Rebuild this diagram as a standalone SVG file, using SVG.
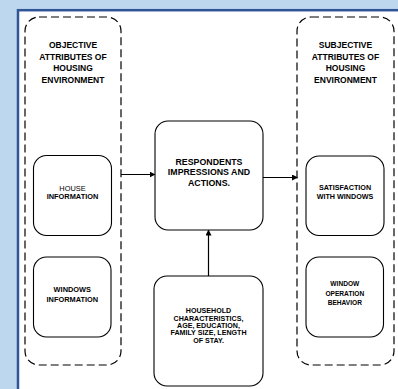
<svg xmlns="http://www.w3.org/2000/svg" width="398" height="389" viewBox="0 0 398 389">
<defs>
<style>
.bg{fill:#BDD7EE}
.panel{fill:#fff;stroke:#2F5597;stroke-width:2.5}
.grp{fill:none;stroke:#000;stroke-width:1.2;stroke-dasharray:8 4}
.node{fill:#fff;stroke:#000;stroke-width:1.1}
text{font-family:"Liberation Sans",Arial,sans-serif;font-weight:bold;text-anchor:middle;fill:#000}
.conn{stroke:#000;stroke-width:1.2;fill:none}
</style>
<marker id="ah" markerWidth="6" markerHeight="6" refX="5" refY="3" orient="auto" markerUnits="userSpaceOnUse">
<path d="M0,0 L6,3 L0,6 Z" fill="#000"/>
</marker>
</defs>
<rect class="bg" x="0" y="0" width="398" height="389"/>
<rect class="panel" x="18" y="10.2" width="390" height="390"/>

<g id="objective">
<rect class="grp" x="25" y="17" width="96" height="348" rx="14"/>
<text font-size="8.5"><tspan x="73" y="48.3">OBJECTIVE</tspan><tspan x="73" y="59.7">ATTRIBUTES OF</tspan><tspan x="73" y="71.2">HOUSING</tspan><tspan x="73" y="82.6">ENVIRONMENT</tspan></text>
</g>
<g id="subjective">
<rect class="grp" x="297" y="17" width="97" height="348" rx="14"/>
<text font-size="8.5"><tspan x="345.5" y="48.3">SUBJECTIVE</tspan><tspan x="345.5" y="59.7">ATTRIBUTES OF</tspan><tspan x="345.5" y="71.2">HOUSING</tspan><tspan x="345.5" y="82.6">ENVIRONMENT</tspan></text>
</g>
<g id="house">
<rect class="node" x="33.5" y="155.5" width="78" height="80" rx="13"/>
<text font-size="7.4"><tspan x="72.5" y="191" font-weight="normal">HOUSE</tspan><tspan x="72.5" y="199.4">INFORMATION</tspan></text>
</g>
<g id="windows">
<rect class="node" x="33.5" y="257" width="77.5" height="80" rx="13"/>
<text font-size="7.4"><tspan x="72.3" y="292">WINDOWS</tspan><tspan x="72.3" y="301.6">INFORMATION</tspan></text>
</g>
<g id="respondents">
<rect class="node" x="155" y="121" width="108" height="109" rx="13"/>
<text font-size="8.8"><tspan x="209" y="164.8">RESPONDENTS</tspan><tspan x="209" y="175.4">IMPRESSIONS AND</tspan><tspan x="209" y="185.9">ACTIONS.</tspan></text>
</g>
<g id="household">
<rect class="node" x="154" y="276" width="109" height="110" rx="13"/>
<text font-size="7.1"><tspan x="208.5" y="313.2">HOUSEHOLD</tspan><tspan x="208.5" y="320.6">CHARACTERISTICS,</tspan><tspan x="208.5" y="328">AGE, EDUCATION,</tspan><tspan x="208.5" y="335.4">FAMILY SIZE, LENGTH</tspan><tspan x="208.5" y="342.8">OF STAY.</tspan></text>
</g>
<g id="satisfaction">
<rect class="node" x="306" y="156" width="78" height="79.5" rx="13"/>
<text font-size="7.2"><tspan x="345" y="189.8">SATISFACTION</tspan><tspan x="345" y="199.2">WITH WINDOWS</tspan></text>
</g>
<g id="operation">
<rect class="node" x="306" y="257" width="77.5" height="80" rx="13"/>
<text font-size="6.6"><tspan x="344.8" y="286.4">WINDOW</tspan><tspan x="344.8" y="295.8">OPERATION</tspan><tspan x="344.8" y="305">BEHAVIOR</tspan></text>
</g>

<g id="connectors">
<line class="conn" x1="121" y1="174.5" x2="154.5" y2="174.5" marker-end="url(#ah)"/>
<line class="conn" x1="263" y1="177.5" x2="297" y2="177.5" marker-end="url(#ah)"/>
<line class="conn" x1="208.5" y1="276" x2="208.5" y2="230.5" marker-end="url(#ah)"/>
</g>
</svg>
